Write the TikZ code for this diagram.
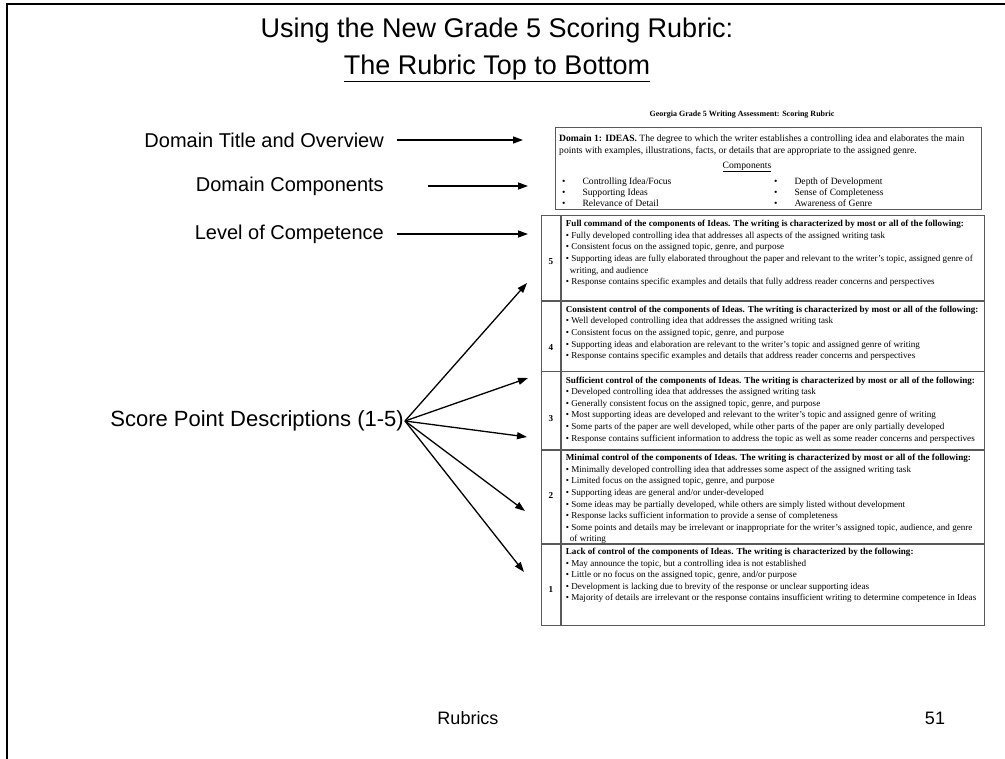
\documentclass[tikz,border=0pt]{standalone}
\usepackage{fontspec}
\setmainfont{Liberation Sans}
\newfontfamily\rubricserif{Liberation Serif}
\usetikzlibrary{arrows.meta,positioning}

\newcommand\rubricsize{\rubricserif\fontsize{9.1}{11.6}\selectfont}
\newcommand\domsize{\rubricserif\fontsize{9.6}{11.5}\selectfont}
\newcommand\bul{\textbullet\ }

\tikzset{
  lbl/.style={anchor=east, inner sep=0pt, font=\fontsize{20}{24}\selectfont},
  cellbox/.style={draw=black!65, line width=0.7pt, inner sep=0pt},
  rowtext/.style={anchor=north west, align=left, inner sep=0pt, font=\rubricsize},
  scorenum/.style={inner sep=0pt, font=\rubricsize\bfseries},
  pointer/.style={-{Triangle[length=10pt,width=7pt]}, line width=1.3pt},
}

\begin{document}
\begin{tikzpicture}[x=1pt, y=-1pt]
\useasboundingbox (0,0) rectangle (1005,759);

% slide frame
\draw[line width=2pt] (7,759) -- (7,4) -- (1005,4);

\node[align=center, font=\fontsize{27}{37}\selectfont] (title) at (497,50) {Using the New Grade 5 Scoring Rubric:\\\underline{The Rubric Top to Bottom}};

% labels on the left
\node[lbl] (ovw) at (384,140) {Domain Title and Overview};
\node[lbl] (cmp) at (384,186) {Domain Components};
\node[lbl] (lvl) at (384,234) {Level of Competence};
\node[lbl, font=\fontsize{22}{26}\selectfont] (spd) at (404,421) {Score Point Descriptions (1-5)};

% the rubric page
\node[font=\rubricserif\bfseries\fontsize{8}{10}\selectfont] (rubhead) at (742,115) {Georgia Grade 5 Writing Assessment: Scoring Rubric};

\node[cellbox, anchor=north west, minimum width=426pt, minimum height=82pt] (dom) at (555,127) {};
\node[rowtext, font=\domsize] (domtxt) at (559,135) {\textbf{Domain 1: IDEAS.} The degree to which the writer establishes a controlling idea and elaborates the main\\points with examples, illustrations, facts, or details that are appropriate to the assigned genre.};
\node[font=\domsize] (comphead) at (747,167) {\underline{Components}};
\node[rowtext, font=\rubricserif\fontsize{9.6}{10.6}\selectfont] (compl) at (562,178) {\textbullet\hspace{17pt}Controlling Idea/Focus\\\textbullet\hspace{17pt}Supporting Ideas\\\textbullet\hspace{17pt}Relevance of Detail};
\node[rowtext, font=\rubricserif\fontsize{9.6}{10.6}\selectfont] (compr) at (774,178) {\textbullet\hspace{17pt}Depth of Development\\\textbullet\hspace{17pt}Sense of Completeness\\\textbullet\hspace{17pt}Awareness of Genre};

% score rows
\node[cellbox, anchor=north west, minimum width=19pt, minimum height=85pt] (n5) at (541,215) {};
\node[cellbox, minimum width=423pt, minimum height=85pt, right=0pt of n5] (t5) {};
\node[cellbox, minimum width=19pt, minimum height=70pt, below=0pt of n5] (n4) {};
\node[cellbox, minimum width=423pt, minimum height=70pt, right=0pt of n4] (t4) {};
\node[cellbox, minimum width=19pt, minimum height=78pt, below=0pt of n4] (n3) {};
\node[cellbox, minimum width=423pt, minimum height=78pt, right=0pt of n3] (t3) {};
\node[cellbox, minimum width=19pt, minimum height=93pt, below=0pt of n3] (n2) {};
\node[cellbox, minimum width=423pt, minimum height=93pt, right=0pt of n2] (t2) {};
\node[cellbox, minimum width=19pt, minimum height=81pt, below=0pt of n2] (n1) {};
\node[cellbox, minimum width=423pt, minimum height=81pt, right=0pt of n1] (t1) {};

\node[scorenum] (k5) at ([yshift=-47pt]n5.north) {5};
\node[scorenum] (k4) at ([yshift=-47pt]n4.north) {4};
\node[scorenum] (k3) at ([yshift=-47pt]n3.north) {3};
\node[scorenum] (k2) at ([yshift=-45pt]n2.north) {2};
\node[scorenum] (k1) at ([yshift=-46pt]n1.north) {1};

\node[rowtext] (x5) at ([xshift=5pt,yshift=-5pt]t5.north west) {\textbf{Full command of the components of Ideas. The writing is characterized by most or all of the following:}\\
\bul Fully developed controlling idea that addresses all aspects of the assigned writing task\\
\bul Consistent focus on the assigned topic, genre, and purpose\\
\bul Supporting ideas are fully elaborated throughout the paper and relevant to the writer’s topic, assigned genre of\\
\hspace{4pt}writing, and audience\\
\bul Response contains specific examples and details that fully address reader concerns and perspectives};

\node[rowtext] (x4) at ([xshift=5pt,yshift=-5pt]t4.north west) {\textbf{Consistent control of the components of Ideas. The writing is characterized by most or all of the following:}\\
\bul Well developed controlling idea that addresses the assigned writing task\\
\bul Consistent focus on the assigned topic, genre, and purpose\\
\bul Supporting ideas and elaboration are relevant to the writer’s topic and assigned genre of writing\\
\bul Response contains specific examples and details that address reader concerns and perspectives};

\node[rowtext] (x3) at ([xshift=5pt,yshift=-5pt]t3.north west) {\textbf{Sufficient control of the components of Ideas. The writing is characterized by most or all of the following:}\\
\bul Developed controlling idea that addresses the assigned writing task\\
\bul Generally consistent focus on the assigned topic, genre, and purpose\\
\bul Most supporting ideas are developed and relevant to the writer’s topic and assigned genre of writing\\
\bul Some parts of the paper are well developed, while other parts of the paper are only partially developed\\
\bul Response contains sufficient information to address the topic as well as some reader concerns and perspectives};

\node[rowtext] (x2) at ([xshift=5pt,yshift=-4pt]t2.north west) {\textbf{Minimal control of the components of Ideas. The writing is characterized by most or all of the following:}\\
\bul Minimally developed controlling idea that addresses some aspect of the assigned writing task\\
\bul Limited focus on the assigned topic, genre, and purpose\\
\bul Supporting ideas are general and/or under-developed\\
\bul Some ideas may be partially developed, while others are simply listed without development\\
\bul Response lacks sufficient information to provide a sense of completeness\\
\bul Some points and details may be irrelevant or inappropriate for the writer’s assigned topic, audience, and genre\\
\hspace{4pt}of writing};

\node[rowtext] (x1) at ([xshift=5pt,yshift=-4pt]t1.north west) {\textbf{Lack of control of the components of Ideas. The writing is characterized by the following:}\\
\bul May announce the topic, but a controlling idea is not established\\
\bul Little or no focus on the assigned topic, genre, and/or purpose\\
\bul Development is lacking due to brevity of the response or unclear supporting ideas\\
\bul Majority of details are irrelevant or the response contains insufficient writing to determine competence in Ideas};

% arrow tips
\coordinate (ovwtip) at (523,140);
\coordinate (cmptip) at (528,186);
\coordinate (lvltip) at (528,234);
\coordinate (tip5) at (527,283);
\coordinate (tip4) at (528,378);
\coordinate (tip3) at (527,437);
\coordinate (tip2) at (525,511);
\coordinate (tip1) at (524,572);

\draw[pointer] ([xshift=13pt]ovw.east) -- (ovwtip);
\draw[pointer] ([xshift=44pt]cmp.east) -- (cmptip);
\draw[pointer] ([xshift=13pt]lvl.east) -- (lvltip);
\draw[pointer] ([xshift=1pt]spd.east) -- (tip5);
\draw[pointer] ([xshift=1pt]spd.east) -- (tip4);
\draw[pointer] ([xshift=1pt]spd.east) -- (tip3);
\draw[pointer] ([xshift=1pt]spd.east) -- (tip2);
\draw[pointer] ([xshift=1pt]spd.east) -- (tip1);

% footer
\node[font=\fontsize{18}{20}\selectfont] (foot) at (468,718) {Rubrics};
\node[font=\fontsize{18}{20}\selectfont] (pageno) at (935,718) {51};

\end{tikzpicture}
\end{document}
